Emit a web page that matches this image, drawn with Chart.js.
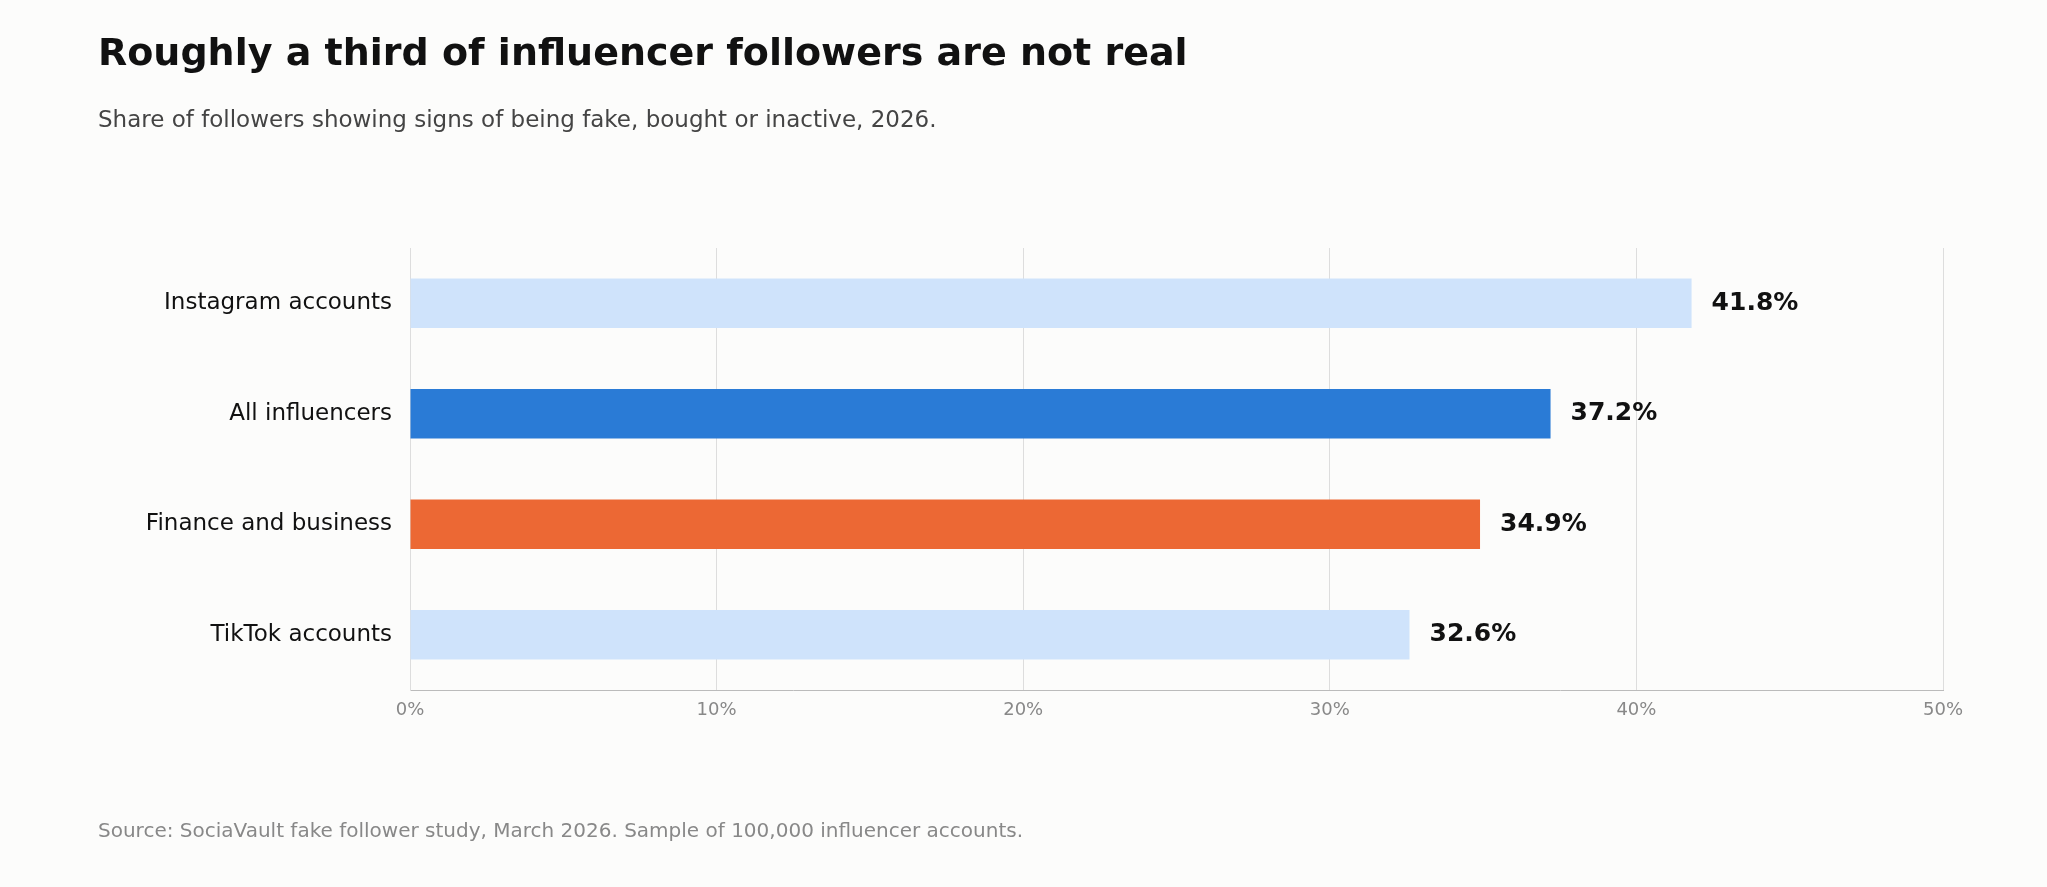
<!DOCTYPE html>
<html><head><meta charset="utf-8">
<script src="https://cdn.jsdelivr.net/npm/chart.js@4"></script>
<style>
html,body{margin:0;padding:0;background:#fcfcfb;width:2047px;height:887px;overflow:hidden;font-family:"DejaVu Sans",sans-serif;}
#title{position:absolute;left:98px;top:30px;font-size:38px;font-weight:bold;color:#111;}
#sub{position:absolute;left:98px;top:106px;font-size:23px;color:#444;}
#src{position:absolute;left:98px;top:818px;font-size:20px;color:#888;}
#wrap{position:absolute;left:0;top:0;width:2047px;height:887px;}
</style></head><body>
<div id="wrap"><canvas id="c"></canvas></div>
<div id="title">Roughly a third of influencer followers are not real</div>
<div id="sub">Share of followers showing signs of being fake, bought or inactive, 2026.</div>
<div id="src">Source: SociaVault fake follower study, March 2026. Sample of 100,000 influencer accounts.</div>
<script>
const categories=["Instagram accounts","All influencers","Finance and business","TikTok accounts"];
const values=[41.8,37.2,34.9,32.6];
const colors=["#cfe3fb","#2a7bd6","#ec6834","#cfe3fb"];
const xTicks=[0,10,20,30,40,50];
const valueLabels={id:'vl',afterDatasetsDraw(ch){const ctx=ch.ctx;const m=ch.getDatasetMeta(0);ctx.save();ctx.font='bold 25px "DejaVu Sans"';ctx.fillStyle='#111';ctx.textBaseline='middle';
m.data.forEach((b,i)=>{ctx.fillText(values[i].toFixed(1)+'%',b.x+20,b.y);});ctx.restore();}};
new Chart(document.getElementById('c'),{type:'bar',
data:{labels:categories,datasets:[{data:values,backgroundColor:colors,barPercentage:0.45,categoryPercentage:1}]},
options:{indexAxis:'y',responsive:true,maintainAspectRatio:false,animation:false,
layout:{padding:{left:10,right:104,top:248,bottom:157}},
plugins:{legend:{display:false},tooltip:{enabled:false}},
scales:{
x:{min:0,max:50,afterBuildTicks(s){s.ticks=xTicks.map(v=>({value:v}));},afterFit(s){s.height=40;},
grid:{color:'#dddddd',drawTicks:false},border:{color:'#bbbbbb'},
ticks:{padding:10,color:'#888',font:{size:18,family:'DejaVu Sans'},callback:v=>v+'%'}},
y:{afterFit(s){s.width=400;},grid:{display:false},border:{display:true,color:'#dddddd'},
ticks:{padding:10,color:'#111',font:{size:23,family:'DejaVu Sans'}}}}},
plugins:[valueLabels]});
</script></body></html>
